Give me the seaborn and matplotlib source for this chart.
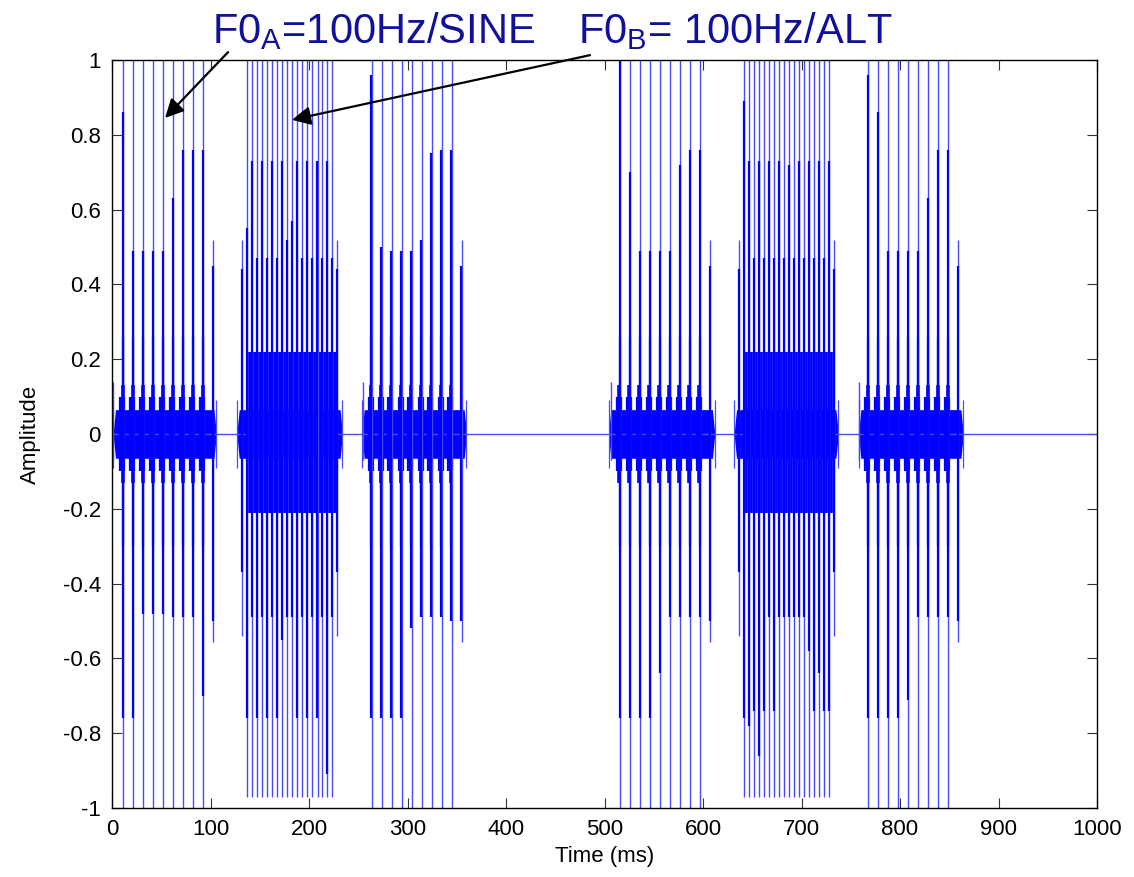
import numpy as np
import pandas as pd
import matplotlib
matplotlib.use("Agg")
import matplotlib.pyplot as plt
import seaborn as sns

# ---- pulse trains (time in ms, amplitude) ----
# Stimulus A: 100 Hz sine-phase harmonic complex, one pulse per period
a_bursts = {
    "A1": dict(t=[11.5, 21.6, 31.8, 41.9, 52.1, 62.2, 72.4, 82.5, 92.7],
               pos=[0.86, 0.49, 0.49, 0.49, 0.49, 0.63, 0.76, 0.76, 0.76],
               neg=[-0.76, -0.76, -0.48, -0.48, -0.48, -0.49, -0.49, -0.49, -0.70],
               start=1.0, end=106.0, onset=1.3, offset=102.8),
    "A2": dict(t=[263.6, 273.8, 283.9, 294.1, 304.2, 314.4, 324.5, 334.7, 344.8],
               pos=[0.96, 0.50, 0.49, 0.49, 0.49, 0.52, 0.75, 0.76, 0.76],
               neg=[-0.76, -0.76, -0.76, -0.76, -0.52, -0.49, -0.49, -0.49, -0.50],
               start=253.5, end=360.0, onset=255.2, offset=355.0),
    "A3": dict(t=[515.7, 525.9, 536.0, 546.2, 556.3, 566.5, 576.6, 586.8, 596.9],
               pos=[1.20, 0.70, 0.49, 0.49, 0.49, 0.49, 0.72, 0.76, 0.76],
               neg=[-0.76, -0.76, -0.76, -0.76, -0.64, -0.49, -0.49, -0.49, -0.49],
               start=503.9, end=612.0, onset=506.6, offset=607.1),
    "A4": dict(t=[767.9, 778.0, 788.2, 798.3, 808.5, 818.6, 828.8, 838.9, 849.1],
               pos=[0.96, 0.86, 0.49, 0.49, 0.49, 0.49, 0.63, 0.76, 0.76],
               neg=[-0.76, -0.76, -0.76, -0.76, -0.71, -0.49, -0.49, -0.49, -0.49],
               start=757.7, end=864.3, onset=758.4, offset=859.2),
}

# Stimulus B: 100 Hz alternating-phase complex, pulses every half period
b_bursts = {
    "B1": dict(t=[137.4, 142.5, 147.6, 152.7, 157.7, 162.8, 167.9, 173.0, 178.1,
                  183.1, 188.2, 193.3, 198.4, 203.5, 208.6, 213.6, 218.7, 223.7],
               pos=[0.55, 0.73, 0.47, 0.73, 0.47, 0.73, 0.47, 0.73, 0.52,
                    0.57, 0.73, 0.47, 0.73, 0.47, 0.73, 0.47, 0.73, 0.47],
               neg=[-0.76, -0.49, -0.76, -0.49, -0.76, -0.49, -0.76, -0.55, -0.49,
                    -0.49, -0.76, -0.49, -0.76, -0.49, -0.76, -0.49, -0.91, -0.49],
               start=126.6, end=234.0, onset=132.3, offset=228.7),
    "B2": dict(t=[641.6, 646.7, 651.8, 656.9, 661.9, 667.0, 672.1, 677.2, 682.3,
                  687.3, 692.4, 697.5, 702.6, 707.7, 712.8, 717.8, 722.9, 727.9],
               pos=[0.89, 0.73, 0.47, 0.73, 0.47, 0.73, 0.47, 0.73, 0.47,
                    0.72, 0.47, 0.73, 0.47, 0.73, 0.47, 0.73, 0.47, 0.73],
               neg=[-0.76, -0.78, -0.74, -0.86, -0.74, -0.49, -0.74, -0.49, -0.49,
                    -0.49, -0.49, -0.49, -0.49, -0.58, -0.74, -0.64, -0.74, -0.74],
               start=631.5, end=737.4, onset=636.5, offset=733.0),
}

x_ticks = [0, 100, 200, 300, 400, 500, 600, 700, 800, 900, 1000]
y_ticks = [-1, -0.8, -0.6, -0.4, -0.2, 0, 0.2, 0.4, 0.6, 0.8, 1]
label_a = "F0$_\\mathregular{A}$=100Hz/SINE"
label_b = "F0$_\\mathregular{B}$= 100Hz/ALT"

# ---- style ----
sns.set_theme(style="ticks")
plt.rcParams["font.family"] = ["Liberation Sans", "DejaVu Sans"]
plt.rcParams["axes.unicode_minus"] = False
plt.rcParams["text.color"] = "black"
plt.rcParams["axes.labelcolor"] = "black"

BLUE = "#0000ff"
THIN = "#4a4aff"
fig = plt.figure(figsize=(11.34, 8.77), dpi=100)
ax = fig.add_axes([0.0988, 0.0787, 0.8686, 0.8529])

# silent baseline
base = pd.DataFrame({"time": [x_ticks[0], x_ticks[-1]], "amp": [0.0, 0.0]})
sns.lineplot(data=base, x="time", y="amp", color=THIN, lw=1.0, ax=ax)


def draw_envelope(b, level):
    ramp = 2.5
    xs = [b["start"], b["start"] + ramp, b["end"] - ramp, b["end"]]
    hi = [0.0, level, level, 0.0]
    ax.fill_between(xs, [-v for v in hi], hi, color=BLUE, lw=0)
    # onset / offset clicks
    for edge in (b["start"] + 0.3, b["end"] - 0.3):
        ax.vlines(edge, -0.09, 0.09, color=THIN, lw=0.9)


for b in a_bursts.values():
    t = np.array(b["t"])
    draw_envelope(b, 0.065)
    # ringing around each pulse
    ax.vlines(t - 1.2, -0.10, 0.10, color=BLUE, lw=4.5)
    ax.vlines(t - 0.8, -0.13, 0.13, color=BLUE, lw=2.6)
    ax.vlines(t - 0.4, -0.30, 0.26, color=BLUE, lw=1.6)
    # main pulses (full-scale thin spikes plus thicker cores)
    ax.vlines(t, -1.3, 1.3, color=THIN, lw=1.0)
    ax.vlines(t - 0.3, b["neg"], b["pos"], color=BLUE, lw=1.6)
    # trailing pulse at burst offset
    ax.vlines(b["offset"], -0.555, 0.52, color=THIN, lw=1.0)
    ax.vlines(b["offset"] - 0.3, -0.50, 0.45, color=BLUE, lw=1.6)
    ax.vlines(b["onset"], -0.07, 0.14, color=THIN, lw=1.0)

for b in b_bursts.values():
    t = np.array(b["t"])
    draw_envelope(b, 0.065)
    ax.vlines(t + 2.3, -0.21, 0.22, color=BLUE, lw=2.7)
    ax.vlines(t, -0.97, 1.3, color=THIN, lw=1.0)
    ax.vlines(t - 0.3, b["neg"], b["pos"], color=BLUE, lw=1.6)
    for edge in (b["onset"], b["offset"]):
        ax.vlines(edge, -0.54, 0.52, color=THIN, lw=1.0)
        ax.vlines(edge - 0.3, -0.37, 0.44, color=BLUE, lw=1.6)

# ---- axes ----
ax.set_xlim(x_ticks[0], x_ticks[-1])
ax.set_ylim(y_ticks[0], y_ticks[-1])
ax.set_xticks(x_ticks)
ax.set_yticks(y_ticks)
ax.set_xticklabels([f"{v:g}" for v in x_ticks])
ax.set_yticklabels([f"{v:g}" for v in y_ticks])
ax.tick_params(direction="in", length=7, width=0.8, labelsize=16, color="#333333",
               top=True, right=True, pad=8, labelcolor="black")
for s in ax.spines.values():
    s.set_visible(True)
    s.set_color("black")
    s.set_linewidth(1.0)
ax.set_xlabel("Time (ms)", fontsize=16, labelpad=4)
ax.set_ylabel("Amplitude", fontsize=16, labelpad=16)

# ---- stimulus labels with arrows ----
NAVY = "#10109a"
fig.text(0.187, 0.951, label_a, fontsize=30, color=NAVY, va="baseline", ha="left")
fig.text(0.5097, 0.951, label_b, fontsize=30, color=NAVY, va="baseline", ha="left")
arrow = dict(arrowstyle="-|>", mutation_scale=28, lw=1.6, color="black",
             shrinkA=0, shrinkB=0)
ax.annotate("", xy=(53.8, 0.845), xytext=(117.8, 1.021), arrowprops=arrow,
            annotation_clip=False)
ax.annotate("", xy=(182.7, 0.84), xytext=(485.3, 1.013), arrowprops=arrow,
            annotation_clip=False)

fig.savefig("out.png", dpi=100)
